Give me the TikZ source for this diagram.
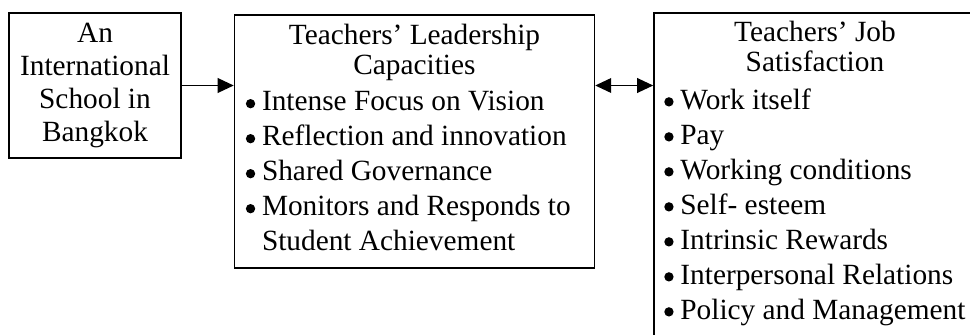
\documentclass[tikz,border=0pt]{standalone}
\usepackage{fontspec}
\setmainfont{Liberation Serif}
\usetikzlibrary{arrows.meta,positioning,calc}

\newcommand{\itembul}{\makebox[12.1pt][l]{\tikz[baseline=-5.4pt]\fill (0,0) circle (3.5pt);}}

\begin{document}
\begin{tikzpicture}[
  frame/.style={draw, line width=1.1pt, inner sep=0pt},
  heading/.style={inner sep=0pt, align=center, font=\fontsize{22pt}{24.75pt}\selectfont},
  items/.style={inner sep=0pt, align=left, font=\fontsize{22pt}{26.25pt}\selectfont},
  link/.style={line width=1.1pt, -{Triangle[length=12pt, width=11pt]}},
  twoway/.style={line width=1.1pt, {Triangle[length=12pt, width=11pt]}-{Triangle[length=12pt, width=11pt]}}
]
\useasboundingbox (0,0) rectangle (727.5pt,-251.25pt);
\clip (0,0) rectangle (727.5pt,-251.25pt);

% boxes
\node[frame, heading, minimum width=129pt, minimum height=108.75pt] (school) at (71.25pt,-64.125pt)
  {An\\International\\School in\\Bangkok};
\node[frame, minimum width=270pt, minimum height=189.75pt, below right=1.5pt and 39pt of school.north east] (lead) {};
\node[frame, minimum width=241.5pt, minimum height=255pt, below right=-1.5pt and 43.5pt of lead.north east] (job) {};

% texts
\node[heading, below=7.5pt of lead.north] (leadtitle) {Teachers’ Leadership\\[-2.25pt]Capacities};
\node[items, below right=57.7pt and 8.9pt of lead.north west] (leadlist)
  {\itembul Intense Focus on Vision\\
   \itembul Reflection and innovation\\
   \itembul Shared Governance\\
   \itembul Monitors and Responds to\\
   \hspace*{12.1pt}Student Achievement};
\node[heading, below=6.7pt of job.north] (jobtitle) {Teachers’ Job\\[-2.25pt]Satisfaction};
\node[items, below right=56.9pt and 8.1pt of job.north west] (joblist)
  {\itembul Work itself\\
   \itembul Pay\\
   \itembul Working conditions\\
   \itembul Self- esteem\\
   \itembul Intrinsic Rewards\\
   \itembul Interpersonal Relations\\
   \itembul Policy and Management};

% connectors
\draw[link] (school.east) -- (school.east -| lead.west);
\draw[twoway] (lead.east |- school.east) -- (job.west |- school.east);
\end{tikzpicture}
\end{document}
